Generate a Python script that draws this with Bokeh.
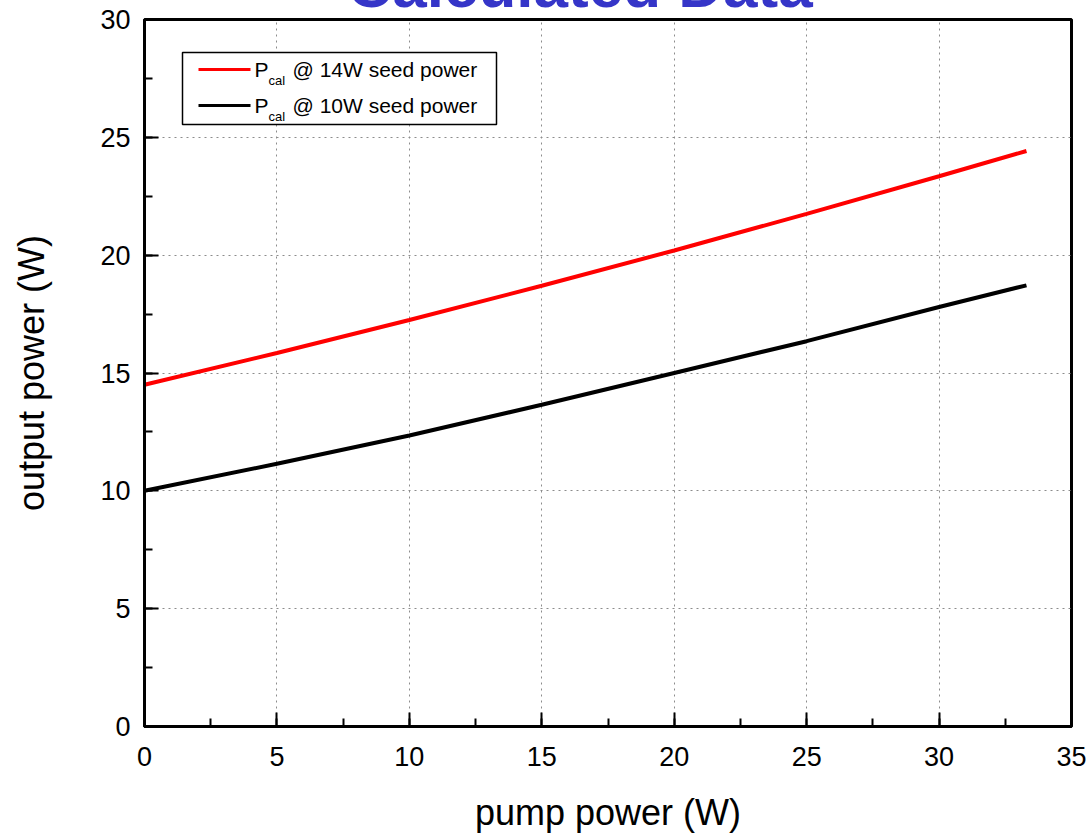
from bokeh.plotting import figure
from bokeh.models import (Range1d, LinearAxis, SingleIntervalTicker, Label,
                          BoxAnnotation, ColumnDataSource)
from bokeh.embed import file_html
from bokeh.resources import INLINE

# ---- data ----
pump_power = [0, 5, 10, 15, 20, 25, 30, 33.3]
p_cal_14w = [14.5, 15.85, 17.25, 18.7, 20.2, 21.75, 23.35, 24.42]
p_cal_10w = [10.0, 11.15, 12.35, 13.65, 15.0, 16.35, 17.8, 18.72]
series_labels = ["@ 14W seed power", "@ 10W seed power"]
series_colors = ["#FF0000", "#000000"]
title_text = "Calculated Data"
x_label = "pump power (W)"
y_label = "output power (W)"

FONT = "Liberation Sans"
TITLE_PX = 62
TITLE_H = 72            # height of the title panel (measured)
SHIFT = TITLE_H - 20    # page is shifted up so the frame top sits at y=20

L, R, B = 144, 19, 107
FW, FH = 927, 707
XMAX, YMAX = 35, 30

def dx(px):
    return (px - L) / FW * XMAX

def dy(py_window):
    return (20 + FH - py_window) / FH * YMAX

p = figure(frame_width=FW, frame_height=FH, output_backend="svg",
           toolbar_location=None,
           x_range=Range1d(0, XMAX), y_range=Range1d(0, YMAX),
           min_border_left=L, min_border_right=R, min_border_top=0,
           min_border_bottom=B, x_axis_location=None, y_axis_location=None,
           title=title_text, title_location="above")
p.styles = {"margin-top": f"-{SHIFT}px"}
p.title.align = "left"
p.title.offset = 203
p.title.standoff = 0
p.title.text_font = FONT
p.title.text_font_size = f"{TITLE_PX}px"
p.title.text_font_style = "bold"
p.title.text_color = "#3535C8"
p.outline_line_color = "black"
p.outline_line_width = 3
p.background_fill_color = "white"
p.border_fill_color = "white"

def style_axis(ax):
    ax.ticker = SingleIntervalTicker(interval=5, num_minor_ticks=2)
    ax.axis_line_width = 3
    ax.axis_line_color = "black"
    ax.major_tick_line_width = 2
    ax.minor_tick_line_width = 2
    ax.major_tick_out = 0
    ax.minor_tick_out = 0
    ax.major_tick_in = 14
    ax.minor_tick_in = 8
    ax.major_label_text_font = FONT
    ax.major_label_text_font_size = "27px"
    ax.major_label_text_color = "black"
    ax.axis_label_text_font = FONT
    ax.axis_label_text_font_size = "36px"
    ax.axis_label_text_font_style = "normal"
    ax.axis_label_text_color = "black"

xb = LinearAxis(axis_label=x_label)
style_axis(xb)
xb.major_label_standoff = 20
xb.axis_label_standoff = 23
p.add_layout(xb, "below")

yl = LinearAxis(axis_label=y_label)
style_axis(yl)
yl.major_label_standoff = 14
yl.axis_label_standoff = 45
p.add_layout(yl, "left")

p.xgrid.ticker = SingleIntervalTicker(interval=5)
p.ygrid.ticker = SingleIntervalTicker(interval=5)
for g in (p.xgrid, p.ygrid):
    g.grid_line_color = "#8c8c8c"
    g.grid_line_dash = "2 4"
    g.grid_line_width = 1

src = ColumnDataSource(dict(x=pump_power, r=p_cal_14w, k=p_cal_10w))
p.line("x", "r", source=src, line_color=series_colors[0], line_width=4)
p.line("x", "k", source=src, line_color=series_colors[1], line_width=4)

# ---- legend (manual, for the subscript) ----
p.add_layout(BoxAnnotation(left=dx(182), right=dx(496), top=dy(53), bottom=dy(125),
                           fill_color="white", fill_alpha=1.0,
                           line_color="black", line_width=1.5, line_alpha=1.0,
                           level="underlay"))
rows_py = [70, 106]
for i, (lab, col) in enumerate(zip(series_labels, series_colors)):
    ypx = rows_py[i]
    p.segment(x0=[dx(198)], y0=[dy(ypx)], x1=[dx(250)], y1=[dy(ypx)],
              line_color=col, line_width=3)
    p.add_layout(Label(x=dx(254), y=dy(ypx), text="P", text_font=FONT,
                       text_font_size="21px", text_baseline="alphabetic",
                       text_color="black"))
    p.add_layout(Label(x=dx(268), y=dy(ypx + 11), text="cal", text_font=FONT,
                       text_font_size="13px", text_baseline="alphabetic",
                       text_color="black"))
    p.add_layout(Label(x=dx(292), y=dy(ypx), text=lab, text_font=FONT,
                       text_font_size="21px", text_baseline="alphabetic",
                       text_color="black"))

open("out.html", "w").write(file_html(p, INLINE))
